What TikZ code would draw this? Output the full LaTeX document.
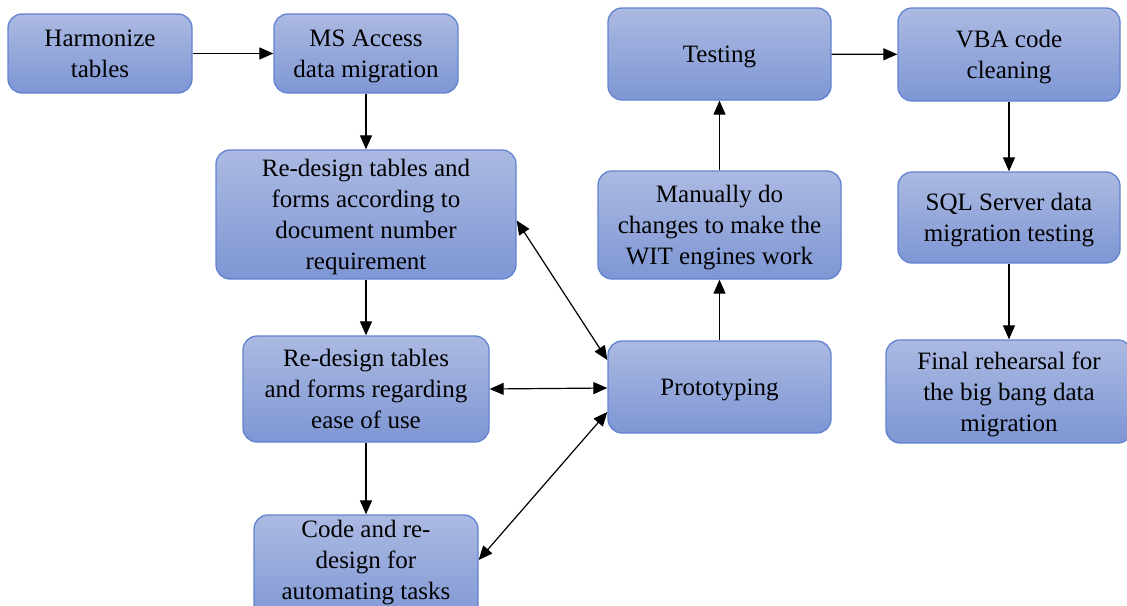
\documentclass[tikz,border=0pt]{standalone}
\usepackage{fontspec}
\setmainfont{Liberation Serif}
\usetikzlibrary{arrows.meta}
\definecolor{boxtop}{RGB}{172,186,226}
\definecolor{boxbot}{RGB}{126,150,212}
\definecolor{boxline}{RGB}{98,132,208}
\tikzset{
  stepbox/.style={draw=boxline, line width=1.3pt, rounded corners=14pt,
    top color=boxtop, bottom color=boxbot, align=center, inner sep=2pt,
    font=\fontsize{25}{31}\selectfont, text=black, text depth=0pt},
  tip/.tip={Triangle[length=14pt,width=12pt]},
  flow/.style={-tip, line width=1.2pt, black},
  both/.style={tip-tip, line width=1.2pt, black}
}
\begin{document}
\begin{tikzpicture}[x=1pt,y=-1pt]
\useasboundingbox (0,0) rectangle (1127,605);
\clip (0,0) rectangle (1127,605);
\fill[white] (0,0) rectangle (1127,605);

% left column
\node[stepbox, minimum width=184pt, minimum height=79pt] (harm) at (100,53.5) {Harmonize\\tables};
\node[stepbox, minimum width=184pt, minimum height=79pt] (msa) at (366,53.5) {MS Access\\data migration};
\node[stepbox, minimum width=300pt, minimum height=129pt] (rd1) at (366,214.5) {Re-design tables and\\forms according to\\document number\\requirement};
\node[stepbox, minimum width=246pt, minimum height=106pt] (rd2) at (366,389) {Re-design tables\\and forms regarding\\ease of use};
% this box runs past the lower edge; extra depth lifts its text
\node[stepbox, minimum width=224pt, minimum height=110pt, text depth=20pt] (code) at (366,570) {Code and re-\\design for\\automating tasks};

% middle column
\node[stepbox, minimum width=223pt, minimum height=92pt] (proto) at (719.5,387) {Prototyping};
\node[stepbox, minimum width=243pt, minimum height=108pt] (man) at (719.5,225) {Manually do\\changes to make the\\WIT engines work};
\node[stepbox, minimum width=223pt, minimum height=92pt] (test) at (719.5,54) {Testing};

% right column
\node[stepbox, minimum width=222pt, minimum height=93pt] (vba) at (1009,54.5) {VBA code\\cleaning};
\node[stepbox, minimum width=222pt, minimum height=91pt] (sql) at (1009,217.5) {SQL Server data\\migration testing};
\node[stepbox, minimum width=246pt, minimum height=103pt] (fin) at (1009,391.5) {Final rehearsal for\\the big bang data\\migration};

% connectors
\draw[flow] (harm) -- (msa);
\draw[flow] (msa) -- (rd1);
\draw[flow] (rd1) -- (rd2);
\draw[flow] (rd2) -- (code);
\draw[both] ([yshift=-6pt]rd1.east) -- ([yshift=27pt]proto.west);
\draw[both] (rd2.east) -- ([yshift=-1pt]proto.west);
\draw[both] ([yshift=10pt]code.east) -- ([yshift=-25pt]proto.west);
\draw[flow] (proto) -- (man);
\draw[flow] (man) -- (test);
\draw[flow] (test) -- (vba);
\draw[flow] (vba) -- (sql);
\draw[flow] (sql) -- (fin);
\end{tikzpicture}
\end{document}
